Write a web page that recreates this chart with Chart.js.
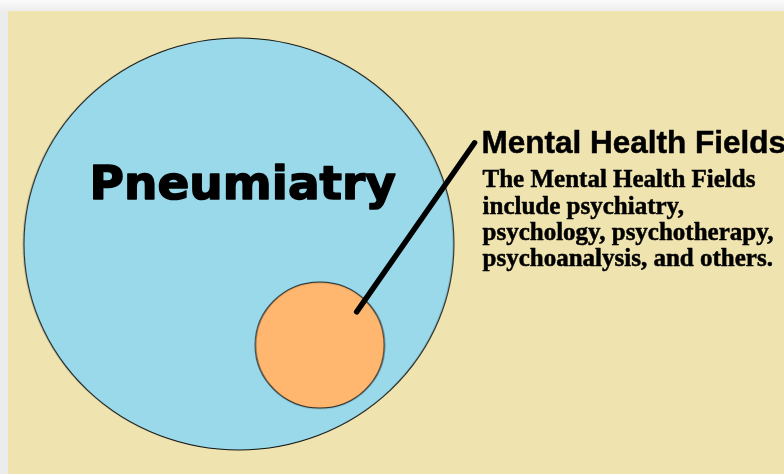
<!DOCTYPE html>
<html>
<head>
<meta charset="utf-8">
<script src="https://cdn.jsdelivr.net/npm/chart.js@4.4.1/dist/chart.umd.min.js"></script>
<style>
  html, body { margin: 0; padding: 0; background: #f3f3f3; }
  #chart { display: block; }
</style>
</head>
<body>
<canvas id="chart" width="784" height="474"></canvas>
<script>
// diagram data
var circleNames = ['Pneumiatry', 'Mental Health Fields'];
var circleX = [238, 319.5];
var circleY = [244, 346];
var pointerX = [356.5, 475];
var pointerY = [312.5, 142];

var titleText = 'Pneumiatry';
var calloutTitle = 'Mental Health Fields';
var calloutLines = [
    'The Mental Health Fields',
    'include psychiatry,',
    'psychology, psychotherapy,',
    'psychoanalysis, and others.'
];

// look of each circle (half width, half height, fill)
var circleStyles = [
    { rx: 215, ry: 206, fill: '#99d9ea' },
    { rx: 64.5, ry: 63, fill: '#ffb66e' }
];

function ellipseImage(s) {
    var c = document.createElement('canvas');
    c.width = Math.ceil(s.rx * 2 + 4);
    c.height = Math.ceil(s.ry * 2 + 4);
    var g = c.getContext('2d');
    g.beginPath();
    g.ellipse(c.width / 2, c.height / 2, s.rx, s.ry, 0, 0, Math.PI * 2);
    g.fillStyle = s.fill;
    g.fill();
    g.lineWidth = 1.1;
    g.strokeStyle = '#111';
    g.stroke();
    return c;
}

var background = {
    id: 'background',
    beforeDraw: function (chart) {
        var ctx = chart.ctx;
        ctx.save();
        var grad = ctx.createLinearGradient(0, 0, 0, 12);
        grad.addColorStop(0, '#fbfbfb');
        grad.addColorStop(1, '#ececec');
        ctx.fillStyle = grad;
        ctx.fillRect(0, 0, chart.width, chart.height);
        ctx.fillStyle = '#efe3b0';
        ctx.fillRect(8, 11, chart.width - 8, chart.height - 11);
        ctx.restore();
    }
};

var labels = {
    id: 'labels',
    afterDatasetsDraw: function (chart) {
        var ctx = chart.ctx;
        var x = chart.scales.x, y = chart.scales.y;
        ctx.save();
        ctx.fillStyle = '#000';
        ctx.strokeStyle = '#000';
        ctx.lineJoin = 'round';
        ctx.textBaseline = 'alphabetic';
        ctx.textAlign = 'left';

        // heavier than plain bold in the original
        ctx.font = 'bold 47px "DejaVu Sans"';
        ctx.lineWidth = 1.6;
        ctx.fillText(titleText, x.getPixelForValue(88), y.getPixelForValue(199));
        ctx.strokeText(titleText, x.getPixelForValue(88), y.getPixelForValue(199));

        ctx.font = 'bold 31.5px "Liberation Sans"';
        ctx.lineWidth = 0.5;
        ctx.fillText(calloutTitle, x.getPixelForValue(482), y.getPixelForValue(152));
        ctx.strokeText(calloutTitle, x.getPixelForValue(482), y.getPixelForValue(152));

        ctx.font = 'bold 25px "Liberation Serif"';
        calloutLines.forEach(function (line, i) {
            ctx.fillText(line, x.getPixelForValue(483), y.getPixelForValue(187 + i * 26.5));
            ctx.strokeText(line, x.getPixelForValue(483), y.getPixelForValue(187 + i * 26.5));
        });
        ctx.restore();
    }
};

var ctx = document.getElementById('chart').getContext('2d');

new Chart(ctx, {
    type: 'scatter',
    data: {
        datasets: [{
            label: 'pointer',
            data: pointerX.map((v, i) => ({ x: v, y: pointerY[i] })),
            showLine: true,
            borderColor: '#000',
            borderWidth: 5.5,
            borderCapStyle: 'round',
            pointRadius: 0
        }, {
            label: 'circles',
            data: circleX.map((v, i) => ({ x: v, y: circleY[i] })),
            pointStyle: circleStyles.map(ellipseImage),
            pointRadius: 1,
            pointHoverRadius: 1
        }]
    },
    options: {
        responsive: false,
        animation: false,
        devicePixelRatio: 1,
        layout: { padding: 0 },
        plugins: {
            legend: { display: false },
            tooltip: { enabled: false }
        },
        scales: {
            x: { type: 'linear', min: 0, max: 784, display: false },
            y: { type: 'linear', min: 0, max: 474, reverse: true, display: false }
        }
    },
    plugins: [background, labels]
});
</script>
</body>
</html>
